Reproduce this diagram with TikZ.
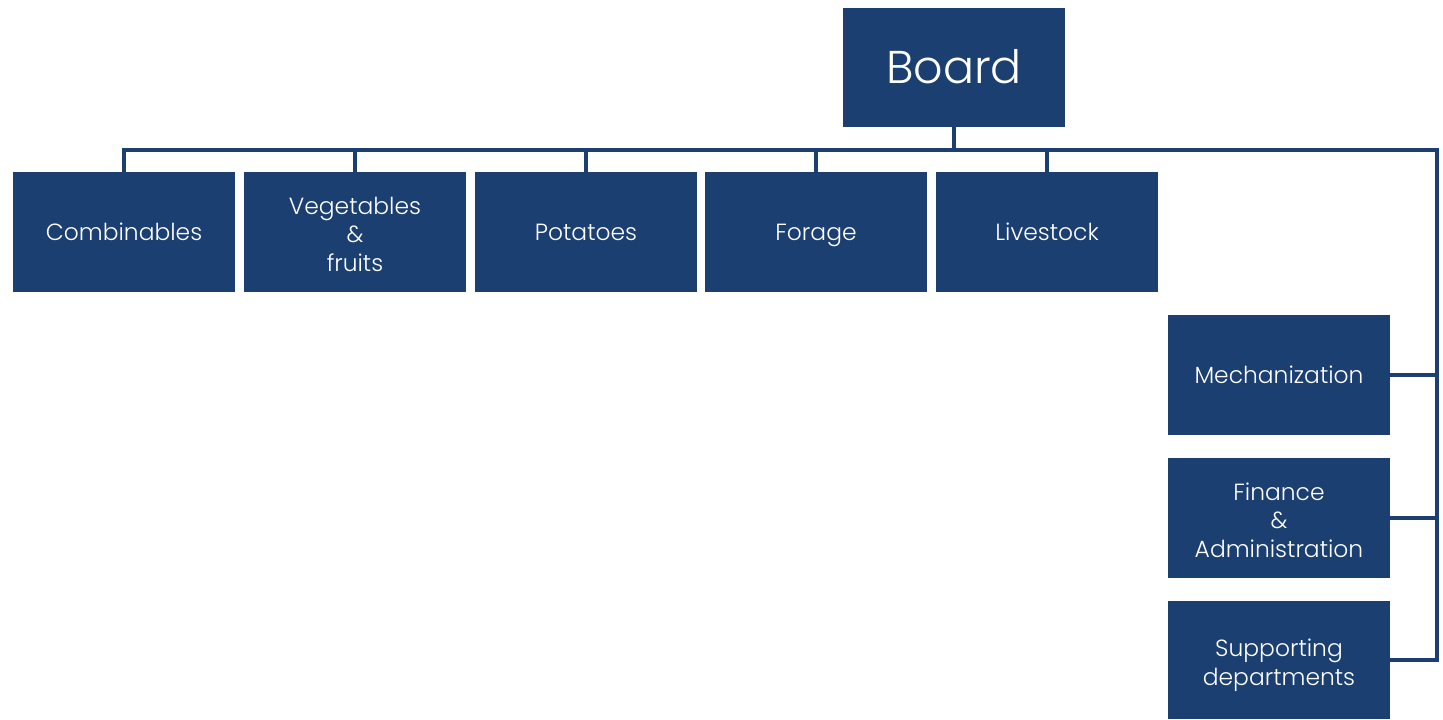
\documentclass[tikz,border=0pt]{standalone}
\usepackage{fontspec}
\setmainfont{Poppins}[UprightFont=* Light]
\definecolor{boardblue}{RGB}{27,63,112}
\newcommand\capgap{\rule{0pt}{13.9pt}}
\tikzset{
	unit/.style={fill=boardblue, text=white, minimum width=111pt, minimum height=60pt,
		inner sep=0pt, align=center, font=\fontsize{11.7}{14.3}\selectfont,
		execute at begin node=\rule{0pt}{0.97em},
		execute at end node=\rule[-0.27em]{0pt}{0.27em}},
	link/.style={draw=boardblue, line width=2pt}
}
\begin{document}
\begin{tikzpicture}[x=0.5pt,y=-0.5pt]
	\useasboundingbox (0,0) rectangle (1443,719);
	\node (board) [unit, minimum height=59.5pt, font=\fontsize{23}{28}\selectfont] at (954,67.5) {Board};
	
	\node (comb) [unit] at (124,232) {Combinables};
	\node (veg) [unit] at (355,232) {\capgap Vegetables\\\&\\fruits};
	\node (pot) [unit] at (586,232) {Potatoes};
	\node (forage) [unit] at (816,232) {Forage};
	\node (live) [unit] at (1047,232) {Livestock};
	
	\node (mech) [unit] at (1279,375) {Mechanization};
	\node (fin) [unit] at (1279,518) {\capgap Finance\\\&\\Administration};
	\node (supp) [unit, minimum height=59pt] at (1279,660) {\capgap Supporting\\departments};
	
	\coordinate (bus) at (954,150);
	\coordinate (corner) at (1437,150);
	\draw [link] (board.south) -- (bus);
	\draw [link] (comb.north) |- (corner) |- (supp.east);
	\foreach \unit in {veg,pot,forage,live}{% drops to the row
		\draw [link] (\unit.north) -- (\unit.north |- bus);
	}
	\foreach \unit in {mech,fin}{% side branches
		\draw [link] (\unit.east) -- (\unit.east -| corner);
	}
\end{tikzpicture}
\end{document}
